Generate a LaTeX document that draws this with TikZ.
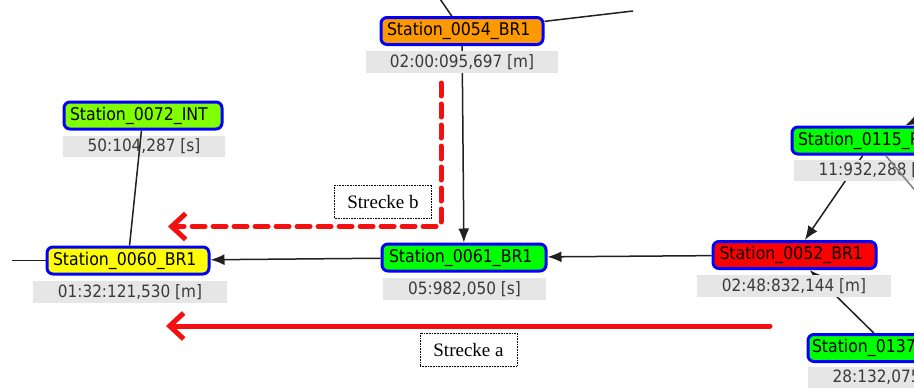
\documentclass[tikz,border=0pt]{standalone}
\usepackage{fontspec}
\setmainfont{DejaVu Sans Condensed}
\newfontfamily\serifface{Liberation Serif}
\usetikzlibrary{arrows.meta}

\definecolor{stborder}{HTML}{0000FF}
\definecolor{fOrange}{HTML}{FF9900}
\definecolor{fLime}{HTML}{80FF00}
\definecolor{fYellow}{HTML}{FFFF00}
\definecolor{fGreen}{HTML}{00FF00}
\definecolor{fRed}{HTML}{FF0000}
\definecolor{lblfill}{HTML}{E6E6E6}
\definecolor{lbltext}{HTML}{3A3A3A}
\definecolor{edgecol}{HTML}{202020}
\definecolor{routecol}{HTML}{F41010}

\tikzset{
  station/.style={draw=stborder, line width=3pt, rounded corners=6pt,
    minimum width=162pt, minimum height=27pt, inner sep=0pt,
    text width=150pt, align=left,
    font=\fontsize{17.5}{19}\selectfont, text=black},
  stlabel/.style={fill=lblfill, minimum height=22pt, inner sep=0pt,
    font=\fontsize{17}{19}\selectfont, text=lbltext},
  link/.style={draw=edgecol, line width=1.5pt},
  arrowlink/.style={link, -{Latex[length=14pt,width=11pt]}},
  route/.style={draw=routecol, line width=5pt, line cap=round, line join=round,
    -{Straight Barb[length=14pt,width=26pt]}},
  routename/.style={draw=black, densely dotted, line width=0.6pt, fill=white,
    minimum width=97pt, minimum height=33pt, inner sep=0pt,
    font=\serifface\fontsize{19}{21}\selectfont}
}

\begin{document}
\begin{tikzpicture}[x=1pt,y=-1pt]
\useasboundingbox (0,0) rectangle (914,388);
\clip (0,0) rectangle (914,388);
\fill[white] (0,0) rectangle (914,388);

% stations
\node[station, fill=fOrange] (n54) at (462,31) {Station\_0054\_BR1};
\node[station, fill=fLime, minimum width=158pt, text width=146pt] (n72) at (143,115.5) {Station\_0072\_INT};
\node[station, fill=fYellow] (n60) at (128,260.5) {Station\_0060\_BR1};
\node[station, fill=fGreen, minimum width=164pt] (n61) at (464,257.5) {Station\_0061\_BR1};
\node[station, fill=fRed, minimum width=163pt] (n52) at (794.5,255) {Station\_0052\_BR1};
\node[station, fill=fGreen] (n115) at (873,140.5) {Station\_0115\_RB1};
\node[station, fill=fGreen, text width=154pt] (n137) at (889,348) {Station\_0137\_BR1};

% free ends of links leaving the frame
\coordinate (up54) at (438,-4);
\coordinate (e54) at (633,11);
\coordinate (w60) at (12,260.5);
\coordinate (ne115) at (960,100);
\coordinate (se115) at (940,220);

% links
\draw[link] (up54) -- (n54);
\draw[link] (n54) -- (e54);
\draw[arrowlink] (n54) -- (n61);
\draw[link] (w60) -- (n60);
\draw[arrowlink] (n61) -- (n60);
\draw[arrowlink] (n52) -- (n61);
\draw[arrowlink] (n115) -- (n52);
\draw[arrowlink] (ne115) -- (n115);
\draw[arrowlink] (n137) -- (n52);

% value labels under the stations
\node[stlabel, minimum width=192pt] (v54) at (462,62) {02:00:095,697 [m]};
\node[stlabel, minimum width=162pt, minimum height=21pt] (v72) at (144,146.5) {50:104,287 [s]};
\node[stlabel, minimum width=194pt] (v60) at (130,292) {01:32:121,530 [m]};
\node[stlabel, minimum width=163pt] (v61) at (464.5,289) {05:982,050 [s]};
\node[stlabel, minimum width=194pt] (v52) at (794,286) {02:48:832,144 [m]};
\node[stlabel, minimum width=162pt, minimum height=21pt] (v115) at (875,170.5) {11:932,288 [s]};
\node[stlabel, minimum width=162pt, minimum height=21pt] (v137) at (889,377.5) {28:132,075 [s]};

% links drawn over the labels
\draw[link] (n60) -- (n72);
\draw[link, draw=gray] (n115) -- (se115);

% highlighted routes
\coordinate (a0) at (770,326);
\coordinate (a1) at (166,326);
\draw[route] (a0) -- (a1);

\coordinate (b0) at (441,83);
\coordinate (b1) at (441,226.5);
\coordinate (b2) at (168,226.5);
\draw[route, dash pattern=on 13pt off 8pt, rounded corners=3pt] (b0) -- (b1) -- (b2);

\node[routename] (ra) at (468.5,349.5) {Strecke a};
\node[routename] (rb) at (383,201.5) {Strecke b};
\end{tikzpicture}
\end{document}
